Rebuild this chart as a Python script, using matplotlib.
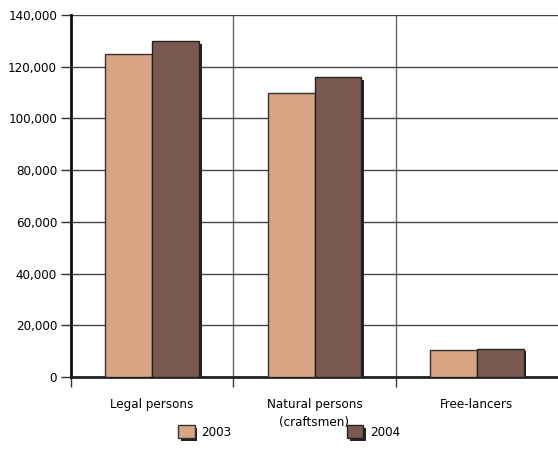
import matplotlib.pyplot as plt
import matplotlib.patheffects as pe
from matplotlib.ticker import FuncFormatter
import numpy as np

categories = ["Legal persons", "Natural persons\n(craftsmen)", "Free-lancers"]
years = ["2003", "2004"]
values_2003 = [125000, 110000, 10500]
values_2004 = [130000, 116000, 11000]

colors = ["#D8A484", "#7A5A50"]

plt.rcParams['font.family'] = ['DejaVu Sans']
plt.rcParams['font.stretch'] = 'condensed'
plt.rcParams['font.size'] = 9.5

fig = plt.figure(figsize=(5.58, 4.70), dpi=100)
ax = fig.add_axes([71/558, 1-377/470, 1-71/558, (377-15)/470])

x = np.arange(len(categories))
w = 0.288
shadow = [pe.SimplePatchShadow(offset=(2, -2), shadow_rgbFace="#222222", alpha=1), pe.Normal()]
b1 = ax.bar(x - w/2, values_2003, w, color=colors[0], edgecolor="#333333", linewidth=1,
            label=years[0], zorder=3, path_effects=shadow)
b2 = ax.bar(x + w/2, values_2004, w, color=colors[1], edgecolor="#222222", linewidth=1,
            label=years[1], zorder=3, path_effects=shadow)

ax.set_xlim(-0.5, 2.5)
ax.set_ylim(0, 140000)
ax.set_yticks(np.arange(0, 140001, 20000))
ax.yaxis.set_major_formatter(FuncFormatter(lambda v, p: f"{int(v):,}"))
ax.set_xticks([-0.5, 0.5, 1.5])
ax.set_xticklabels([])
ax.set_xticks(x, minor=True)
ax.set_xticklabels(categories, minor=True)
for t in ax.get_xticklabels(minor=True):
    t.set_linespacing(1.5)
ax.tick_params(axis="x", which="minor", length=0, pad=15)
ax.tick_params(axis="x", which="major", length=7, color="#333333", width=1)
ax.tick_params(axis="y", length=7, color="#333333", width=1, pad=3)

ax.grid(axis="y", color="#444444", linewidth=1, zorder=1)
ax.grid(axis="x", which="major", color="#666666", linewidth=1, zorder=1)

ax.spines["right"].set_visible(False)
ax.spines["top"].set_visible(False)
ax.spines["left"].set_linewidth(2)
ax.spines["left"].set_color("#111111")
ax.spines["bottom"].set_linewidth(2)
ax.spines["bottom"].set_color("#222222")

fig.legend(handles=[b1, b2], labels=years, loc="center", bbox_to_anchor=(0.518, 1-432/470),
           ncol=2, frameon=False, handlelength=1.25, handleheight=1.2, handletextpad=0.5,
           columnspacing=8.75)

fig.savefig("out.png", dpi=100)
